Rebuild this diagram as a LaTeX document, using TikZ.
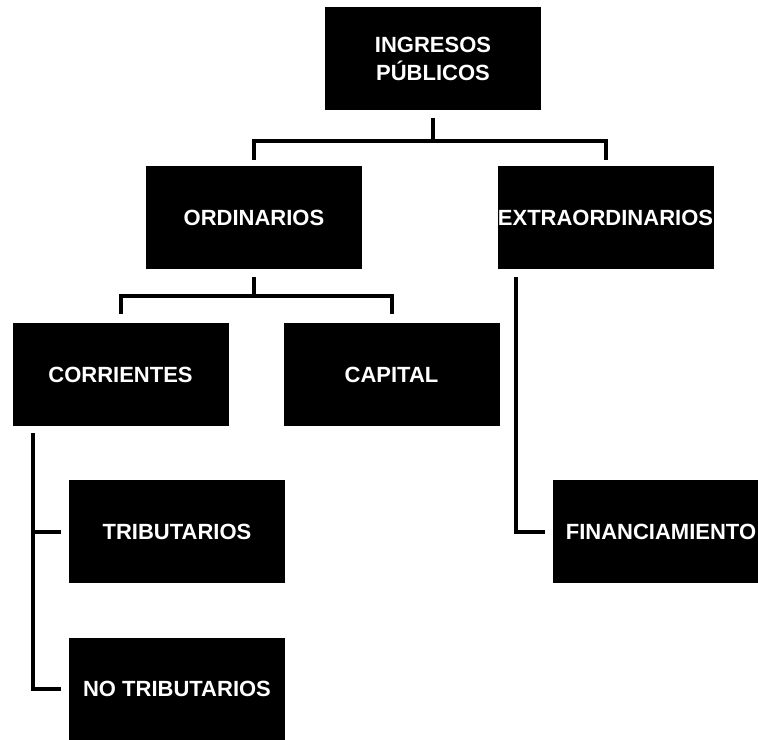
\documentclass[tikz,border=0pt]{standalone}
\usepackage{fontspec}
\setmainfont{Liberation Sans}

\begin{document}
\begin{tikzpicture}[x=0.75pt, y=-0.75pt,
        box/.style={rectangle, fill=black, draw=black, text=white, inner sep=0pt,
            minimum width=161.5pt, minimum height=76.5pt, align=center,
            font=\fontsize{16.5}{21}\selectfont\bfseries},
        conn/.style={line width=3pt}]
                    \useasboundingbox (0, 0) rectangle (758, 740);

                    \node [box] (ing) at (433, 58.5) {INGRESOS\\PÚBLICOS};
                    \node [box] (ord) at (254, 217.5) {ORDINARIOS};
                    \node [box] (ext) at (605.5, 217.5) {EXTRAORDINARIOS};
                    \node [box] (corr) at (120.5, 374.5) {CORRIENTES};
                    \node [box] (cap) at (391.5, 374.5) {CAPITAL};
                    \node [box] (trib) at (177, 531.5) {TRIBUTARIOS};
                    \node [box] (notrib) at (177, 689) {NO TRIBUTARIOS};
                    \node [box] (fin) at (661, 531.5) {FINANCIAMIENTO};

                    \coordinate (ingbus) at (433, 141);
                    \coordinate (ordbus) at (254, 296);
                    \coordinate (corrtrunk) at (33, 425);
                    \coordinate (exttrunk) at (516, 269);

                    \draw [conn, shorten <=6pt] (ing.south) -- (ingbus);
                    \draw [conn, shorten <=4.5pt, shorten >=4.5pt] (ord.north) |- (ingbus) -| (ext.north);
                    \draw [conn, shorten <=6pt] (ord.south) -- (ordbus);
                    \draw [conn, shorten <=6.75pt, shorten >=6.75pt] (corr.north) |- (ordbus) -| (cap.north);
                    \draw [conn, shorten <=6pt, shorten >=6pt] (corrtrunk) |- (notrib.west);
                    \draw [conn, shorten >=6pt] (corrtrunk |- trib.west) -- (trib.west);
                    \draw [conn, shorten <=6pt, shorten >=6pt] (exttrunk) |- (fin.west);
                \end{tikzpicture}
\end{document}
